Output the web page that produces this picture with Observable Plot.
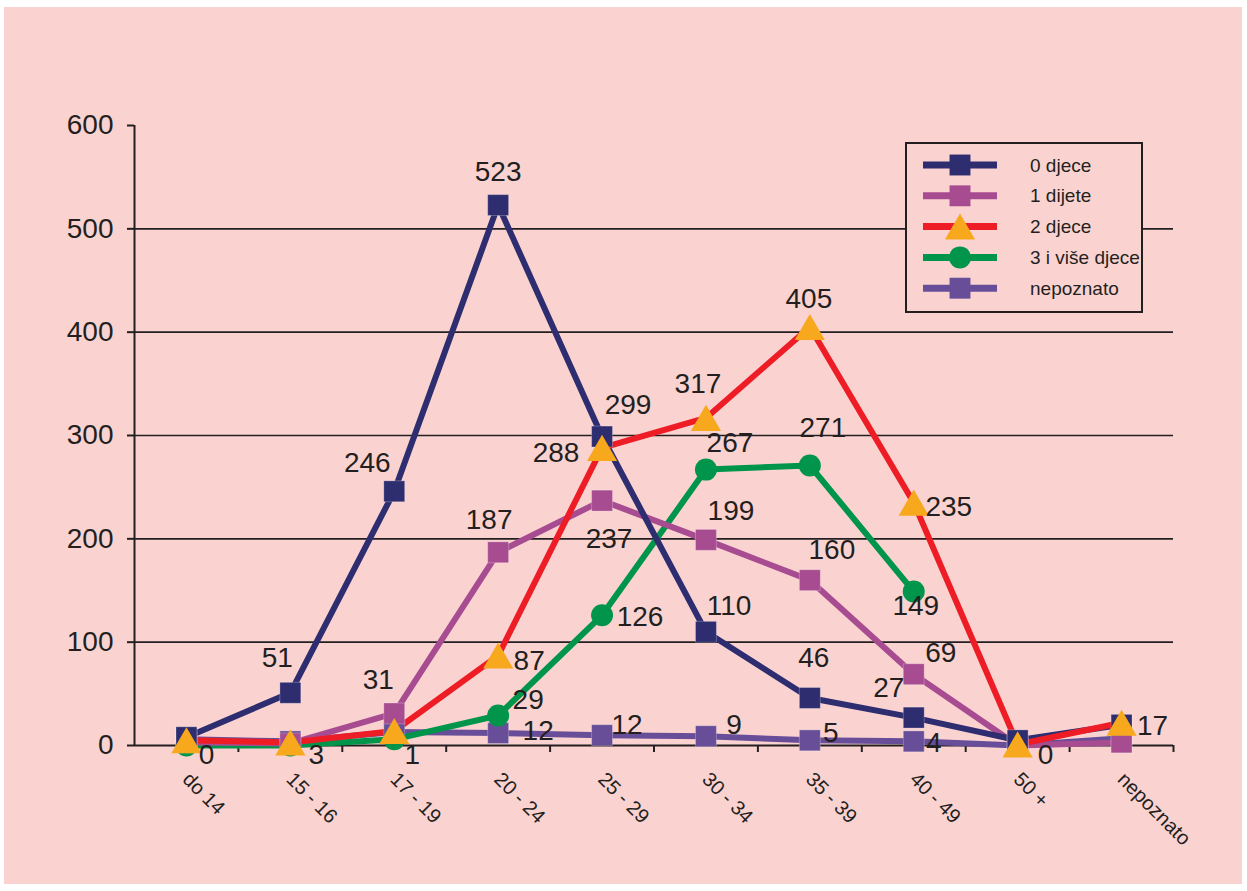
<!DOCTYPE html>
<html><head><meta charset="utf-8">
<script src="https://cdn.jsdelivr.net/npm/d3@7"></script>
<script src="https://cdn.jsdelivr.net/npm/@observablehq/plot@0.6"></script>
<style>
html,body{margin:0;padding:0;background:#fff;}
#bg{position:absolute;left:4px;top:7px;width:1238px;height:877px;background:#fad3d1;}
#chart{position:absolute;left:0;top:0;}
</style></head><body><div id="bg"></div><div id="chart"></div>
<script>
// ---- data ----
const categories = ["do 14","15 - 16","17 - 19","20 - 24","25 - 29","30 - 34","35 - 39","40 - 49","50 +","nepoznato"];
const seriesNames = ["0 djece","1 dijete","2 djece","3 i više djece","nepoznato"];
const zeroKids    = [8, 51, 246, 523, 299, 110, 46, 27, 5, 20];
const oneKid      = [3, 2, 31, 187, 237, 199, 160, 69, 0, 3];
const twoKids     = [5, 3, 14, 87, 288, 317, 405, 235, 1, 22];
const threeKids   = [0, 0, 6, 29, 126, 267, 271, 149, null, null];
const unknownKids = [6, 4, 13, 12, 10, 9, 5, 4, 0, 7];
const yTicks = [0, 100, 200, 300, 400, 500, 600];
const gridValues = [100, 200, 300, 400, 500];
// data label texts as printed on the chart (null = no label)
const labelsZero    = [null,"51","246","523","299","110","46","27",null,null];
const labelsOne     = [null,null,"31","187","237","199","160","69",null,null];
const labelsTwo     = [null,null,null,"87","288","317","405","235",null,null];
const labelsThree   = [null,null,null,"29","126","267","271","149",null,null];
const labelsUnknown = ["0","3","1","12","12","9","5","4","0","17"];

// ---- label placement (pixel nudges from the point) ----
const nudgesZero    = [null,[-13,-35],[-27,-28],[0,-33],[26,-32],[23,-26],[4,-40],[-25,-30],null,null];
const nudgesOne     = [null,null,[-16,-33],[-9,-32],[7,38],[25,-29],[22,-30],[27,-21],null,null];
const nudgesTwo     = [null,null,null,[31,5],[-46,5],[-8,-34],[-1,-28],[35,4],null,null];
const nudgesThree   = [null,null,null,[30,-16],[38,2],[24,-27],[13,-37],[2,14],null,null];
const nudgesUnknown = [[20,16],[26,14],[18,23],[40,-2],[25,-10],[28,-11],[21,-7],[20,2],[28,10],[31,-12]];

const seriesValues = {"0 djece":zeroKids,"1 dijete":oneKid,"2 djece":twoKids,"3 i više djece":threeKids,"nepoznato":unknownKids};
const seriesLabels = {"0 djece":labelsZero,"1 dijete":labelsOne,"2 djece":labelsTwo,"3 i više djece":labelsThree,"nepoznato":labelsUnknown};
const seriesNudges = {"0 djece":nudgesZero,"1 dijete":nudgesOne,"2 djece":nudgesTwo,"3 i više djece":nudgesThree,"nepoznato":nudgesUnknown};

// ---- styles ----
const INK = "#231f20";
const FONT = "'Liberation Sans', Arial, Helvetica, sans-serif";
const styles = {
  "0 djece":        {stroke:"#2e2d70", fill:"#2e2d70", symbol:"square",   r:11.8, dy:0},
  "1 dijete":       {stroke:"#a84c91", fill:"#a84c91", symbol:"square",   r:11.8, dy:0},
  "2 djece":        {stroke:"#ee1d25", fill:"#f8a81d", symbol:"triangle", r:11.2, dy:4.3},
  "3 i više djece": {stroke:"#00954b", fill:"#00954b", symbol:"circle",   r:11,   dy:0},
  "nepoznato":      {stroke:"#684e98", fill:"#684e98", symbol:"square",   r:11.8, dy:0}
};
const drawOrder = ["nepoznato","3 i više djece","1 dijete","0 djece","2 djece"];

const rows = name => seriesValues[name]
  .map((v, i) => v == null ? null : {series: name, x: i + 0.5, y: v})
  .filter(d => d);

const marks = [
  Plot.ruleY(gridValues, {x1: 0, x2: 10, stroke: INK, strokeWidth: 1.6}),
  Plot.ruleY([0], {x1: 0, x2: 10, stroke: INK, strokeWidth: 2}),
  Plot.ruleX([0], {y1: 0, y2: 600, stroke: INK, strokeWidth: 2}),
  Plot.axisY(yTicks, {tickSize: 7, tickPadding: 14, fontSize: 28, stroke: INK, strokeWidth: 2, fill: INK, label: null}),
  Plot.axisX(d3.range(1, 11), {tickSize: 7, tickFormat: () => "", stroke: INK, strokeWidth: 2, label: null}),
  Plot.text(categories, {x: (d, i) => i + 0.5, y: 0, text: d => d, rotate: 45, textAnchor: "start", lineAnchor: "top", dx: 5, dy: 25, fontSize: 20, fill: INK})
];
for (const name of drawOrder) {
  const s = styles[name];
  marks.push(Plot.line(rows(name), {x: "x", y: "y", stroke: s.stroke, strokeWidth: 6, strokeLinejoin: "round"}));
}
for (const name of drawOrder) {
  const s = styles[name];
  marks.push(Plot.dot(rows(name), {x: "x", y: "y", symbol: s.symbol, r: s.r, fill: s.fill, stroke: "#ffffff", strokeOpacity: s.symbol === "square" ? 0.25 : 0, strokeWidth: 1, dy: s.dy}));
}
for (const name of seriesNames) {
  const vals = seriesValues[name], labs = seriesLabels[name], nud = seriesNudges[name];
  labs.forEach((t, i) => {
    if (t == null) return;
    marks.push(Plot.text([{x: i + 0.5, y: vals[i], t}], {x: "x", y: "y", text: "t", dx: nud[i][0], dy: nud[i][1], fontSize: 28, fill: INK, textAnchor: "middle", lineAnchor: "middle"}));
  });
}

const chart = Plot.plot({
  width: 1247, height: 891,
  marginLeft: 134, marginRight: 74, marginTop: 125, marginBottom: 146,
  x: {type: "linear", domain: [0, 10], axis: null},
  y: {type: "linear", domain: [0, 600], axis: null},
  style: {background: "transparent", fontFamily: FONT, color: INK},
  marks
});
document.getElementById("chart").appendChild(chart);

// ---- legend (inside plot area) ----
const svg = d3.select(chart);
const lg = svg.append("g").attr("font-family", FONT).attr("text-anchor", "start");
lg.append("rect").attr("x", 906).attr("y", 143).attr("width", 236).attr("height", 169)
  .attr("fill", "#fad3d1").attr("stroke", INK).attr("stroke-width", 2);
seriesNames.forEach((name, i) => {
  const s = styles[name];
  const y = 165 + i * 30.8;
  lg.append("line").attr("x1", 923).attr("x2", 997).attr("y1", y).attr("y2", y)
    .attr("stroke", s.stroke).attr("stroke-width", 7);
  const size = Math.PI * s.r * s.r;
  const sym = {square: d3.symbolSquare, triangle: d3.symbolTriangle, circle: d3.symbolCircle}[s.symbol];
  lg.append("path").attr("d", d3.symbol(sym, size)())
    .attr("transform", `translate(960,${y + s.dy})`).attr("fill", s.fill);
  lg.append("text").attr("x", 1030).attr("y", y).attr("dy", "0.35em")
    .attr("text-anchor", "start").attr("font-size", 19).attr("fill", INK).text(name);
});
</script>
</body></html>
